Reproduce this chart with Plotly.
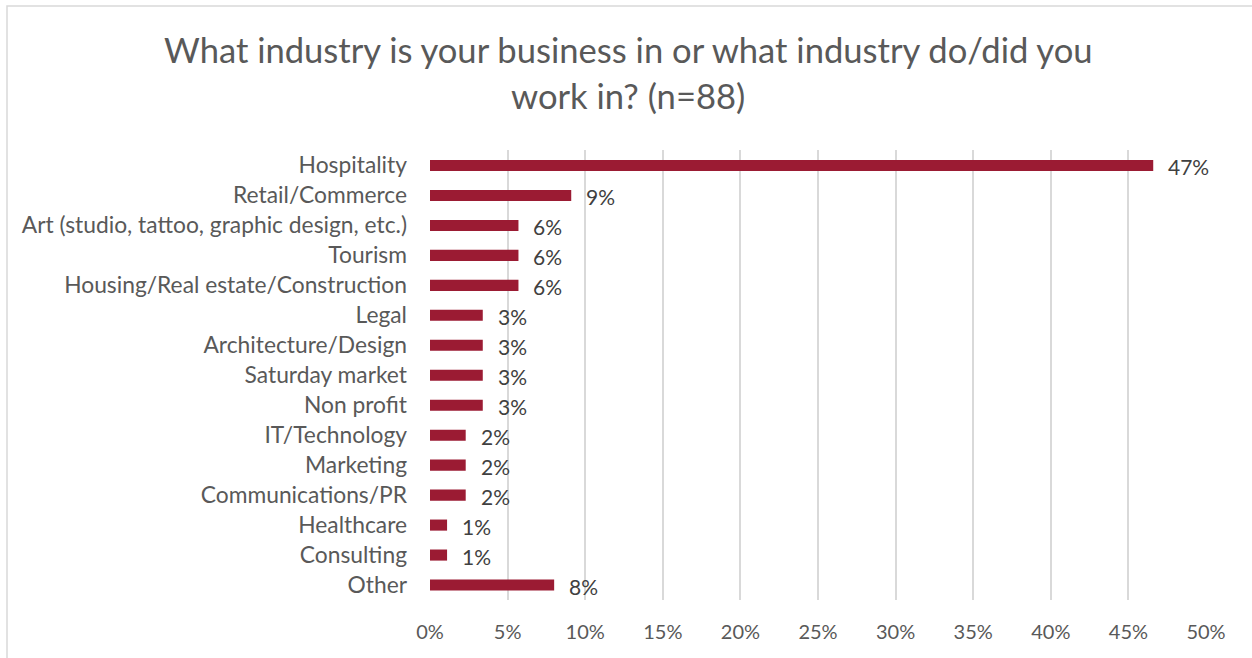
import plotly.graph_objects as go

# Survey responses (share of respondents, n=88)
categories = [
    "Hospitality", "Retail/Commerce", "Art (studio, tattoo, graphic design, etc.)",
    "Tourism", "Housing/Real estate/Construction", "Legal", "Architecture/Design",
    "Saturday market", "Non profit", "IT/Technology", "Marketing",
    "Communications/PR", "Healthcare", "Consulting", "Other",
]
shares = [0.466, 0.091, 0.057, 0.057, 0.057, 0.034, 0.034, 0.034, 0.034,
          0.023, 0.023, 0.023, 0.011, 0.011, 0.080]
tick_vals = [0, 0.05, 0.10, 0.15, 0.20, 0.25, 0.30, 0.35, 0.40, 0.45, 0.50]
tick_text = ["0%", "5%", "10%", "15%", "20%", "25%", "30%", "35%", "40%", "45%", "50%"]
title_lines = ["What industry is your business in or what industry do/did you",
               "work in? (n=88)"]

FONT = "Lato, 'Noto Sans', sans-serif"
GREY = "#595959"
BAR = "#9B1B33"

L, R, T, B = 430, 46, 150, 58
PW, PH = 1252 - L - R, 658 - T - B

fig = go.Figure(go.Bar(
    x=shares, y=categories, orientation="h",
    marker=dict(color=BAR, line=dict(width=0)),
    hovertemplate="%{y}: %{x:.0%}<extra></extra>",
))

# value labels to the right of each bar
for cat, val in zip(categories, shares):
    fig.add_annotation(
        x=val, y=cat, text=f"{val:.0%}", showarrow=False,
        xanchor="left", xshift=13, yshift=-1,
        font=dict(family=FONT, size=21, color="#404040"),
    )

# two-line centred title
for i, line in enumerate(title_lines):
    fig.add_annotation(
        xref="paper", yref="paper",
        x=(628 - L) / PW, y=1 + (T - (50 + 46 * i)) / PH,
        xanchor="center", yanchor="middle", showarrow=False,
        text=line, font=dict(family=FONT, size=34.6, color=GREY),
    )

# light frame around the chart
fig.add_shape(type="rect", xref="paper", yref="paper",
              x0=(7 - L) / PW, x1=1.2, y0=-0.3, y1=1 + (T - 6) / PH,
              line=dict(color="#D9D9D9", width=1.5), fillcolor="rgba(0,0,0,0)",
              layer="below")

fig.update_layout(
    width=1252, height=658,
    margin=dict(l=L, r=R, t=T, b=B),
    paper_bgcolor="white", plot_bgcolor="white",
    bargap=0.63, showlegend=False,
    xaxis=dict(
        range=[0, 0.5], tickvals=tick_vals, ticktext=tick_text,
        showgrid=True, gridcolor="#D9D9D9", gridwidth=1.5,
        zeroline=False, showline=False, ticks="",
        ticklabelstandoff=18,
        tickfont=dict(family=FONT, size=20, color=GREY),
        fixedrange=True,
    ),
    yaxis=dict(
        categoryorder="array", categoryarray=categories,
        autorange="reversed", showgrid=False, zeroline=False,
        ticks="", ticklabelstandoff=22,
        tickfont=dict(family=FONT, size=22.8, color=GREY),
        fixedrange=True,
    ),
)

fig.write_html("out.html")
